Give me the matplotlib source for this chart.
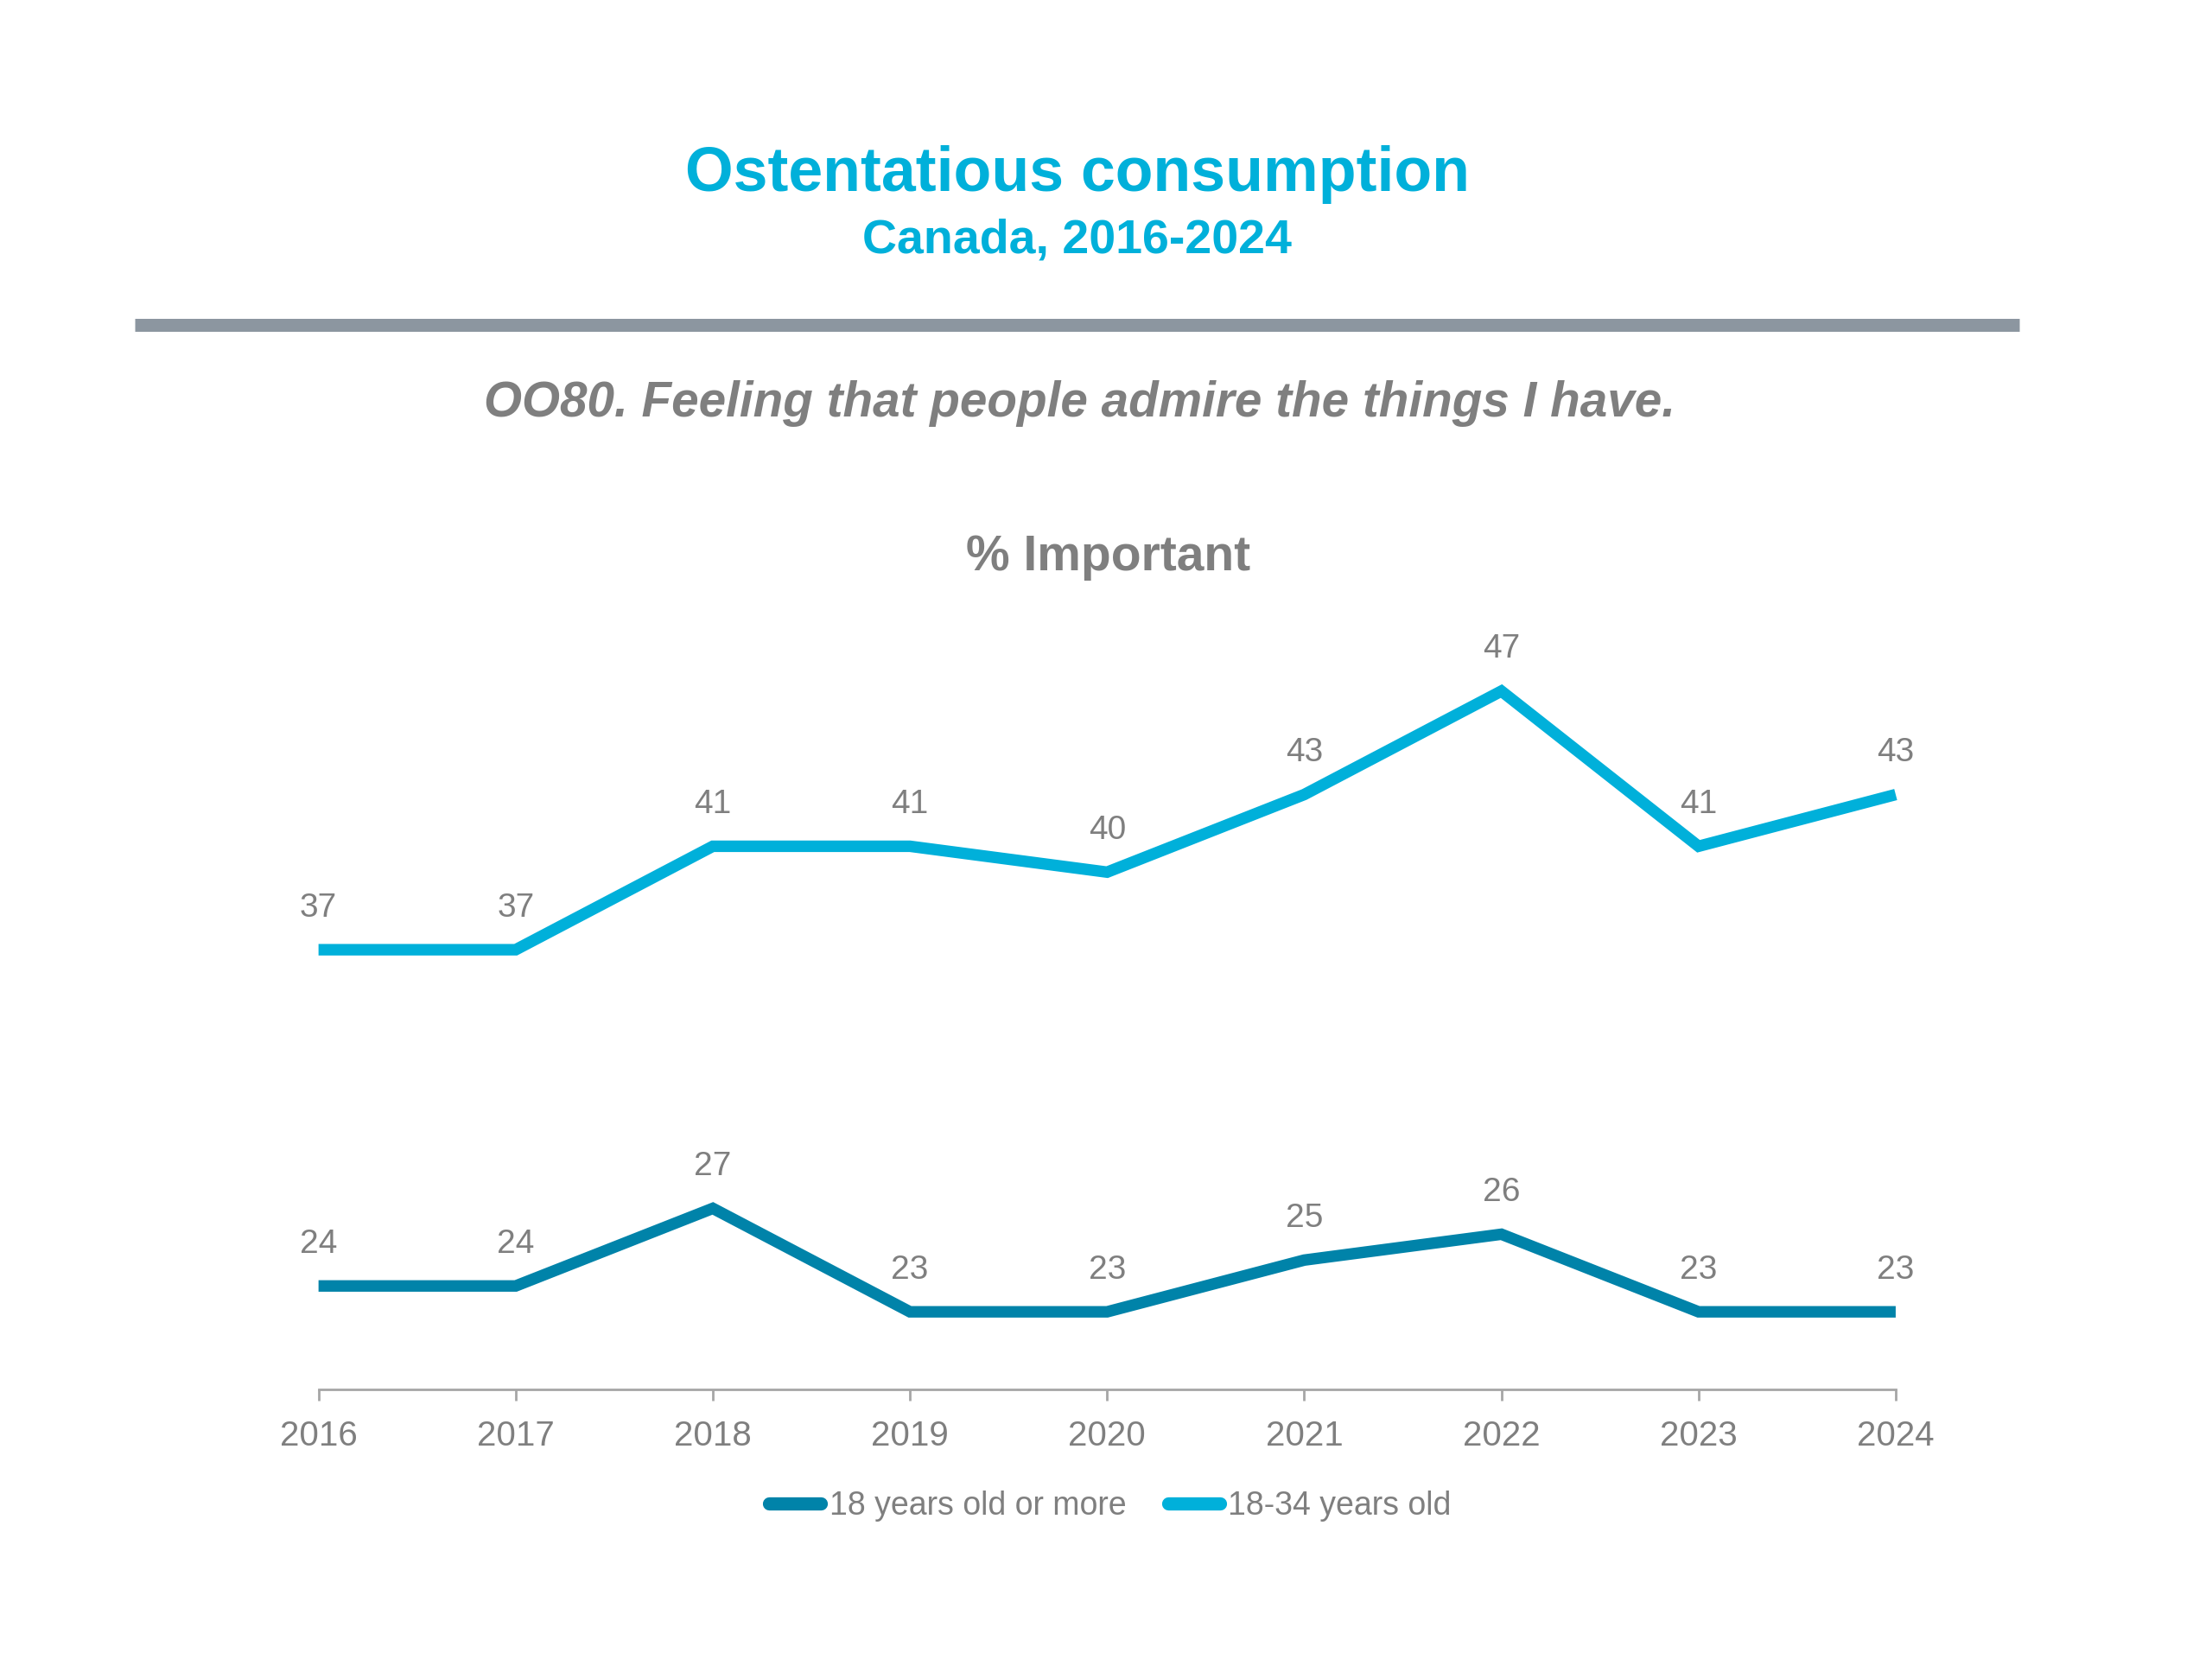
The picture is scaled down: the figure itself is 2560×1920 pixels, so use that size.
import matplotlib
matplotlib.use("Agg")
import matplotlib.pyplot as plt
from matplotlib.lines import Line2D

years = [2016, 2017, 2018, 2019, 2020, 2021, 2022, 2023, 2024]
all_adults = [24, 24, 27, 23, 23, 25, 26, 23, 23]
young_adults = [37, 37, 41, 41, 40, 43, 47, 41, 43]
series_names = ["18 years old or more", "18-34 years old"]

dark_teal = "#0083A9"
light_blue = "#00B0DA"
grey_text = "#7F7F7F"

plt.rcParams['font.family'] = ['Liberation Sans', 'DejaVu Sans']

fig = plt.figure(figsize=(12.8, 9.6), dpi=200)

# header
fig.text(0.487, 0.895, "Ostentatious consumption", ha="center", va="center",
         fontsize=25.8, fontweight="bold", color=light_blue)
fig.text(0.487, 0.855, "Canada, 2016-2024", ha="center", va="center",
         fontsize=20, fontweight="bold", color=light_blue)
fig.add_artist(Line2D([0.061, 0.913], [0.804, 0.804], transform=fig.transFigure,
                      color="#8C96A0", linewidth=5.4, solid_capstyle="butt"))
fig.text(0.488, 0.757, "OO80. Feeling that people admire the things I have.",
         ha="center", va="center", fontsize=20.4, fontweight="bold",
         fontstyle="italic", color=grey_text)
fig.text(0.501, 0.664, "% Important", ha="center", va="center",
         fontsize=20.5, fontweight="bold", color=grey_text)

ax = fig.add_axes([0.144, 0.1625, 0.713, 0.4677])
ax.plot(years, all_adults, color=dark_teal, linewidth=4.8, label=series_names[0],
        solid_joinstyle="miter", solid_capstyle="butt")
ax.plot(years, young_adults, color=light_blue, linewidth=4.8, label=series_names[1],
        solid_joinstyle="miter", solid_capstyle="butt")

for series in [all_adults, young_adults]:
    for x, y in zip(years, series):
        ax.annotate(str(y), (x, y), xytext=(0, 17.5), textcoords="offset points",
                    ha="center", va="center", fontsize=14, color=grey_text)

ax.set_xlim(years[0], years[-1])
ax.set_ylim(20, 50)
ax.set_yticks([])
for s in ["top", "right", "left"]:
    ax.spines[s].set_visible(False)
ax.spines["bottom"].set_color("#A6A6A6")
ax.spines["bottom"].set_linewidth(1.0)
ax.set_xticks(years)
ax.set_xticklabels([str(y) for y in years])
ax.tick_params(axis="x", direction="out", length=4.5, width=1.0, color="#A6A6A6",
               labelsize=14.5, labelcolor=grey_text, pad=8)
for line in ax.lines:
    line.set_clip_on(False)

leg = fig.legend(loc="center", bbox_to_anchor=(0.502, 0.092), ncol=2, frameon=False,
                 handlelength=1.6, handletextpad=0.25, columnspacing=1.3,
                 prop={'size': 13.5})
for t in leg.get_texts():
    t.set_color(grey_text)
for h in leg.get_lines():
    h.set_solid_capstyle("round")
    h.set_linewidth(5.5)

fig.savefig("out.png", dpi=200, facecolor="white")
